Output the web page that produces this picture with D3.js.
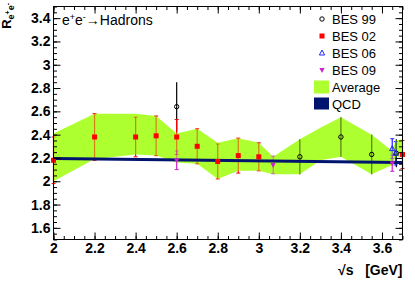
<!DOCTYPE html>
<html>
<head>
<meta charset="utf-8">
<script src="https://cdn.jsdelivr.net/npm/d3@7"></script>
<style>
body { margin: 0; background: #fff; }
text { font-family: "Liberation Sans", Arial, sans-serif; }
</style>
</head>
<body>
<div id="chart"></div>
<script>
// data
var bes99E = [2.6, 3.2, 3.4, 3.55, 3.67];
var bes99R = [2.64, 2.21, 2.38, 2.23, 2.24];
var bes99Err = [0.21, 0.15, 0.17, 0.17, 0.12];

var bes02E = [2.0, 2.2, 2.4, 2.5, 2.6, 2.7, 2.8, 2.9, 3.0, 3.7];
var bes02R = [2.18, 2.38, 2.38, 2.39, 2.38, 2.30, 2.17, 2.22, 2.21, 2.23];
var bes02Err = [0.2, 0.2, 0.17, 0.17, 0.15, 0.15, 0.15, 0.15, 0.12, 0.12];

var bes06E = [3.65, 3.667];
var bes06R = [2.28, 2.24];
var bes06Err = [0.085, 0.1];

var bes09E = [2.6, 3.07, 3.65];
var bes09R = [2.18, 2.14, 2.155];
var bes09Err = [0.08, 0.075, 0.07];

var avgE = [2.0, 2.2, 2.4, 2.5, 2.6, 2.7, 2.8, 2.9, 3.0, 3.07, 3.2, 3.3, 3.4, 3.55, 3.65, 3.667, 3.7];
var avgHigh = [2.41, 2.58, 2.58, 2.56, 2.41, 2.45, 2.33, 2.37, 2.33, 2.21, 2.36, 2.46, 2.55, 2.40, 2.26, 2.35, 2.36];
var avgLow = [2.00, 2.19, 2.23, 2.22, 2.16, 2.15, 2.02, 2.09, 2.09, 2.06, 2.06, 2.18, 2.21, 2.06, 2.14, 2.21, 2.21];

var qcdE = [2.0, 3.7];
var qcdLow = [2.183, 2.149];
var qcdHigh = [2.208, 2.174];

var xTicks = [2, 2.2, 2.4, 2.6, 2.8, 3, 3.2, 3.4, 3.6];
var xLabels = ["2", "2.2", "2.4", "2.6", "2.8", "3", "3.2", "3.4", "3.6"];
var yTicks = [1.6, 1.8, 2, 2.2, 2.4, 2.6, 2.8, 3, 3.2, 3.4];
var yLabels = ["1.6", "1.8", "2", "2.2", "2.4", "2.6", "2.8", "3", "3.2", "3.4"];

var legendNames = ["BES 99", "BES 02", "BES 06", "BES 09", "Average", "QCD"];

function toPoints(E, R, Err) {
	return E.map(function (e, i) { return {x: e, y: R[i], err: Err[i]}; });
}

var sets = [
	{name: "BES 99", pts: toPoints(bes99E, bes99R, bes99Err), color: "#000000", marker: "circle", cap: 0},
	{name: "BES 02", pts: toPoints(bes02E, bes02R, bes02Err), color: "#ff0000", marker: "square", cap: 2},
	{name: "BES 06", pts: toPoints(bes06E, bes06R, bes06Err), color: "#2222ff", marker: "triangleUp", cap: 2},
	{name: "BES 09", pts: toPoints(bes09E, bes09R, bes09Err), color: "#cc22cc", marker: "triangleDown", cap: 2}
];

var band = avgE.map(function (e, i) { return {x: e, lo: avgLow[i], hi: avgHigh[i]}; });
var qcd = qcdE.map(function (e, i) { return {x: e, lo: qcdLow[i], hi: qcdHigh[i]}; });

var W = 415, H = 281;
var padL = 53.5, padR = 402.5, padT = 6.5, padB = 239.5;

var x = d3.scaleLinear().domain([2, 3.7]).range([padL, padR]);
var y = d3.scaleLinear().domain([1.5, 3.5]).range([padB, padT]);

var svg = d3.select("#chart").append("svg")
	.attr("width", W)
	.attr("height", H);

var defs = svg.append("defs");

var area = d3.area()
	.x(function (d) { return x(d.x); })
	.y0(function (d) { return y(d.lo); })
	.y1(function (d) { return y(d.hi); });

defs.append("clipPath").attr("id", "bandclip")
	.append("path").attr("d", area(band));

// error bars (below band)
function drawBars(g, s, opacity) {
	s.pts.forEach(function (d) {
		var cx = x(d.x);
		g.append("line")
			.attr("x1", cx).attr("x2", cx)
			.attr("y1", y(d.y - d.err)).attr("y2", y(d.y + d.err))
			.attr("stroke", s.color).attr("stroke-width", 1.2)
			.attr("stroke-opacity", opacity);
		if (s.cap > 0) {
			[d.y - d.err, d.y + d.err].forEach(function (v) {
				g.append("line")
					.attr("x1", cx - s.cap).attr("x2", cx + s.cap)
					.attr("y1", y(v)).attr("y2", y(v))
					.attr("stroke", s.color).attr("stroke-width", 1)
					.attr("stroke-opacity", opacity);
			});
		}
	});
}

var barsG = svg.append("g");
sets.forEach(function (s) { drawBars(barsG, s, 1); });

// average band
svg.append("path")
	.attr("d", area(band))
	.attr("fill", "#adff2f");

// error bars seen through the band
var bandBars = svg.append("g").attr("clip-path", "url(#bandclip)");
sets.forEach(function (s) { drawBars(bandBars, s, 0.5); });

// qcd band
svg.append("path")
	.attr("d", area(qcd))
	.attr("fill", "#00136e");

function drawMarker(g, type, cx, cy, color) {
	if (type == "circle") {
		g.append("circle").attr("cx", cx).attr("cy", cy).attr("r", 2.2)
			.attr("fill", "none").attr("stroke", color).attr("stroke-width", 1);
	} else if (type == "square") {
		g.append("rect").attr("x", cx - 2.5).attr("y", cy - 2.5)
			.attr("width", 5).attr("height", 5).attr("fill", color);
	} else if (type == "triangleUp") {
		g.append("path")
			.attr("d", "M" + cx + "," + (cy - 3) + "L" + (cx + 2.6) + "," + (cy + 2) + "L" + (cx - 2.6) + "," + (cy + 2) + "Z")
			.attr("fill", "none").attr("stroke", color).attr("stroke-width", 1);
	} else {
		g.append("path")
			.attr("d", "M" + cx + "," + (cy + 3) + "L" + (cx + 2.6) + "," + (cy - 2) + "L" + (cx - 2.6) + "," + (cy - 2) + "Z")
			.attr("fill", color);
	}
}

var markG = svg.append("g");
sets.forEach(function (s) {
	s.pts.forEach(function (d) {
		drawMarker(markG, s.marker, x(d.x), y(d.y), s.color);
	});
});

// axes, ticks pointing inwards on all four sides
var minorX = d3.range(0, 35).map(function (i) { return 2 + i * 0.05; });
var minorY = d3.range(0, 41).map(function (i) { return 1.5 + i * 0.05; });

svg.append("g").attr("transform", "translate(0," + padB + ")")
	.call(d3.axisBottom(x).tickValues(minorX).tickSize(-3.5).tickFormat(""));
svg.append("g").attr("transform", "translate(0," + padB + ")")
	.call(d3.axisBottom(x).tickValues(xTicks).tickSize(-7).tickPadding(4)
		.tickFormat(function (d, i) { return xLabels[i]; }));
svg.append("g").attr("transform", "translate(0," + padT + ")")
	.call(d3.axisTop(x).tickValues(minorX).tickSize(-3.5).tickFormat(""));
svg.append("g").attr("transform", "translate(0," + padT + ")")
	.call(d3.axisTop(x).tickValues(xTicks).tickSize(-7).tickFormat(""));

svg.append("g").attr("transform", "translate(" + padL + ",0)")
	.call(d3.axisLeft(y).tickValues(minorY).tickSize(-3.5).tickFormat(""));
svg.append("g").attr("transform", "translate(" + padL + ",0)")
	.call(d3.axisLeft(y).tickValues(yTicks).tickSize(-7).tickPadding(3)
		.tickFormat(function (d, i) { return yLabels[i]; }));
svg.append("g").attr("transform", "translate(" + padR + ",0)")
	.call(d3.axisRight(y).tickValues(minorY).tickSize(-3.5).tickFormat(""));
svg.append("g").attr("transform", "translate(" + padR + ",0)")
	.call(d3.axisRight(y).tickValues(yTicks).tickSize(-7).tickFormat(""));

svg.selectAll(".domain").remove();
svg.selectAll(".tick text")
	.attr("font-family", "Liberation Sans, Arial, sans-serif")
	.attr("font-size", 14)
	.attr("font-weight", "bold")
	.attr("fill", "#000");

svg.append("rect")
	.attr("x", padL).attr("y", padT)
	.attr("width", padR - padL).attr("height", padB - padT)
	.attr("fill", "none").attr("stroke", "#000").attr("stroke-width", 1);

// process label
var proc = svg.append("text").attr("x", 62).attr("y", 25).attr("font-size", 14);
proc.append("tspan").text("e");
proc.append("tspan").attr("dy", -5).attr("font-size", 9).text("+");
proc.append("tspan").attr("dy", 5).text("e");
proc.append("tspan").attr("dy", -5).attr("font-size", 9).text("-");
proc.append("tspan").attr("dy", 5).text("\u2192Hadrons");

// legend
var legRowY = [19, 36, 53, 70, 87, 104];
var leg = svg.append("g");
sets.forEach(function (s, i) {
	drawMarker(leg, s.marker, 322, legRowY[i], s.color);
});
leg.append("rect").attr("x", 314).attr("y", legRowY[4] - 6.5).attr("width", 15).attr("height", 13).attr("fill", "#adff2f");
leg.append("rect").attr("x", 314).attr("y", legRowY[5] - 6.5).attr("width", 15).attr("height", 12).attr("fill", "#00136e");
legendNames.forEach(function (n, i) {
	leg.append("text").attr("x", 332).attr("y", legRowY[i] + 4.7)
		.attr("font-size", 13).attr("fill", "#000").text(n);
});

// axis titles
svg.append("text")
	.attr("x", padR).attr("y", 275)
	.attr("text-anchor", "end")
	.style("white-space", "pre")
	.attr("font-size", 14).attr("font-weight", "bold")
	.text("\u221As   [GeV]");

var yt = svg.append("text")
	.attr("transform", "translate(11,3) rotate(-90)")
	.attr("text-anchor", "end")
	.attr("font-size", 13).attr("font-weight", "bold");
yt.append("tspan").text("R");
yt.append("tspan").attr("dy", 3).attr("font-size", 9).text("e");
yt.append("tspan").attr("dy", -4).attr("font-size", 7).text("+");
yt.append("tspan").attr("dy", 4).attr("font-size", 9).text("e");
yt.append("tspan").attr("dy", -4).attr("font-size", 7).text("-");
</script>
</body>
</html>
